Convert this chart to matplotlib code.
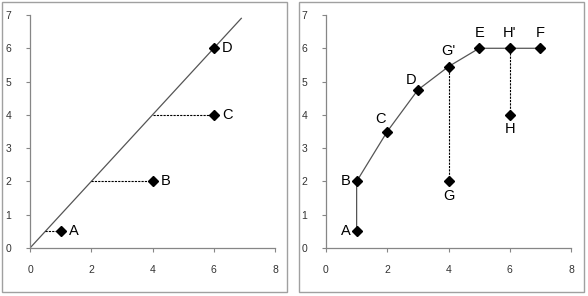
import matplotlib
matplotlib.use("Agg")
import matplotlib.pyplot as plt
from matplotlib.patches import Rectangle

plt.rcParams['font.family'] = ['Liberation Sans', 'DejaVu Sans']

# Left panel data
diag_x = [0, 6.9]
diag_y = [0, 6.9]
left_labels = ['A', 'B', 'C', 'D']
left_x = [1, 4, 6, 6]
left_y = [0.5, 2, 4, 6]
left_proj_x = [0.5, 2, 4, 6]  # point on the line at same y

# Right panel data
path_labels = ['A', 'B', 'C', 'D', "G'", 'E', "H'", 'F']
path_x = [1, 1, 2, 3, 4, 5, 6, 7]
path_y = [0.5, 2, 3.5, 4.75, 5.45, 6, 6, 6]
extra_labels = ['G', 'H']
extra_x = [4, 6]
extra_y = [2, 4]
extra_top_y = [5.45, 6]

xticks = [0, 2, 4, 6, 8]
yticks = [0, 1, 2, 3, 4, 5, 6, 7]

W, H = 588, 296
fig = plt.figure(figsize=(W / 100, H / 100), dpi=100)

# panel frames
for (x0, x1) in [(2, 287), (299, 584)]:
    fig.patches.append(Rectangle((x0 / W, 1 - 292 / H), (x1 - x0) / W, 290 / H,
                                 transform=fig.transFigure, fill=False,
                                 edgecolor='#a0a0a0', linewidth=1.0))

def style(ax):
    ax.set_xlim(0, 8)
    ax.set_ylim(0, 7)
    ax.set_xticks(xticks)
    ax.set_yticks(yticks)
    for s in ['top', 'right']:
        ax.spines[s].set_visible(False)
    for s in ['left', 'bottom']:
        ax.spines[s].set_color('#868686')
        ax.spines[s].set_linewidth(0.9)
    ax.tick_params(direction='out', length=3, width=0.8, color='#868686',
                   labelsize=7.5, labelcolor='#333333')
    ax.tick_params(axis='x', pad=9)
    ax.tick_params(axis='y', pad=10.5)
    ax.set_facecolor('none')

axL = fig.add_axes([30 / W, 1 - 248 / H, 245 / W, 233 / H])
axR = fig.add_axes([326 / W, 1 - 248 / H, 245 / W, 233 / H])
style(axL)
style(axR)

lab_fs = 10.5

# left panel
axL.plot(diag_x, diag_y, color='#555555', linewidth=0.9, zorder=2)
for px, x, y in zip(left_proj_x, left_x, left_y):
    if px != x:
        axL.plot([px, x], [y, y], color='black', linestyle=(0, (2, 1)),
                 linewidth=0.8, zorder=2)
axL.plot(left_x, left_y, linestyle='none', marker='D', markersize=4.8,
         color='black', zorder=3)
for lab, x, y in zip(left_labels, left_x, left_y):
    axL.annotate(lab, (x, y), xytext=(6, 0), textcoords='offset points',
                 ha='left', va='center', fontsize=lab_fs, color='black')

# right panel
axR.plot(path_x, path_y, color='#555555', linewidth=0.9, zorder=2)
for x, yb, yt in zip(extra_x, extra_y, extra_top_y):
    axR.plot([x, x], [yb, yt], color='black', linestyle=(0, (2, 1)),
             linewidth=0.8, zorder=2)
axR.plot(path_x, path_y, linestyle='none', marker='D', markersize=4.8,
         color='black', zorder=3)
axR.plot(extra_x, extra_y, linestyle='none', marker='D', markersize=4.8,
         color='black', zorder=3)

offsets = {
    'A': (-4.5, 0, 'right', 'center'),
    'B': (-4.5, 0, 'right', 'center'),
    'C': (-1, 4, 'right', 'bottom'),
    'D': (-1, 2, 'right', 'bottom'),
    "G'": (0, 6, 'center', 'bottom'),
    'E': (0, 6, 'center', 'bottom'),
    "H'": (0, 6, 'center', 'bottom'),
    'F': (0, 6, 'center', 'bottom'),
}
for lab, x, y in zip(path_labels, path_x, path_y):
    dx, dy, ha, va = offsets[lab]
    axR.annotate(lab, (x, y), xytext=(dx, dy), textcoords='offset points',
                 ha=ha, va=va, fontsize=lab_fs, color='black')
for lab, x, y in zip(extra_labels, extra_x, extra_y):
    axR.annotate(lab, (x, y), xytext=(0, -5.5), textcoords='offset points',
                 ha='center', va='top', fontsize=lab_fs, color='black')

fig.savefig('out.png', dpi=100, facecolor='white')
